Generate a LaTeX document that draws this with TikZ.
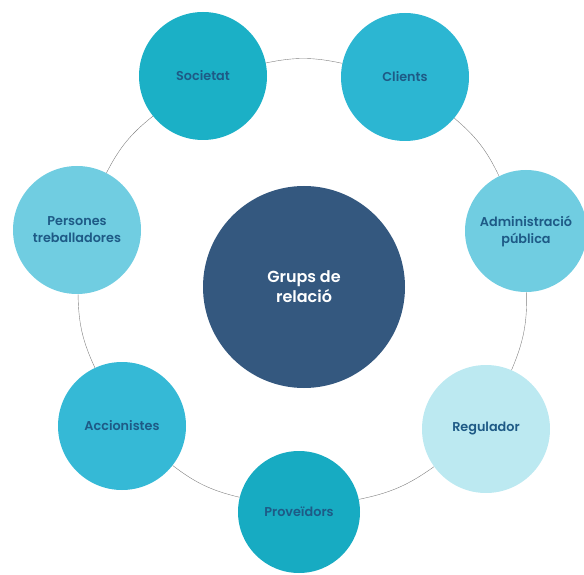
\documentclass[tikz,border=0pt]{standalone}
\usepackage{fontspec}
\setmainfont{Poppins}[BoldFont={Poppins SemiBold}]
\usetikzlibrary{positioning}

\definecolor{teal1}{HTML}{1BB0C6}
\definecolor{teal2}{HTML}{2CB6D2}
\definecolor{teal3}{HTML}{35B9D6}
\definecolor{teal4}{HTML}{17ABC2}
\definecolor{light1}{HTML}{70CDE1}
\definecolor{light2}{HTML}{BCE9F1}
\definecolor{core}{HTML}{34587F}
\definecolor{label}{HTML}{1E5A86}

\begin{document}
\begin{tikzpicture}[x=1pt,y=1pt,semithick]
	\tikzset{group/.style = {shape=circle,minimum size=128pt,inner sep=0pt,align=center,
		text=label,font=\fontsize{12.8}{17}\selectfont\bfseries}}
	\tikzset{center/.style = {shape=circle,fill=core,minimum size=202pt,inner sep=0pt,align=center,
		text=white,font=\fontsize{16}{20}\selectfont\bfseries}}
	\tikzset{ring/.style = {draw=gray,line width=0.4pt,bend left=12}}
	\useasboundingbox (0,0) rectangle (584,574);
	\clip (0,0) rectangle (584,574);
	% vertices
	\node[center] (m) at (304,287) {Grups de\\relació};
	\node[group,fill=teal1] (a) at (203,498) {Societat};
	\node[group,fill=teal2] (b) at (405,497) {Clients};
	\node[group,fill=light1,minimum size=122pt] (c) at (526,343) {Administració\\pública};
	\node[group,fill=light2] (d) at (486,145) {Regulador};
	\node[group,fill=teal4,minimum size=122pt] (e) at (299,62) {Proveïdors};
	\node[group,fill=teal3] (f) at (122,148) {Accionistes};
	\node[group,fill=light1] (g) at (77,344) {Persones\\treballadores};
	% edges
	\path (a) edge[ring] (b);
	\path (b) edge[ring] (c);
	\path (c) edge[ring] (d);
	\path (d) edge[ring] (e);
	\path (e) edge[ring] (f);
	\path (f) edge[ring] (g);
	\path (g) edge[ring] (a);
\end{tikzpicture}
\end{document}
